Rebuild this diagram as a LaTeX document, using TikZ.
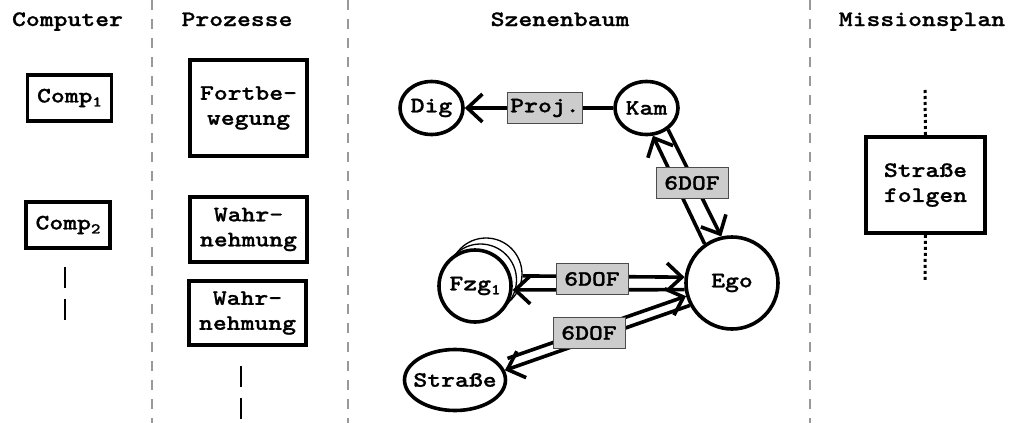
\documentclass[tikz,border=0pt]{standalone}
\usepackage{fontspec}
\newfontfamily\cour{lmmonolt10-bold.otf}[FakeStretch=1.2, FakeBold=1]
\usetikzlibrary{arrows.meta,shapes.geometric}
% small lowered index digit
\newcommand{\lowidx}[1]{\raisebox{-4pt}{\fontsize{15}{15}\selectfont #1}}

\begin{document}
\begin{tikzpicture}[x=1pt,y=-1pt,
  txt/.style={font=\cour\fontsize{22}{25}\selectfont},
  sep/.style={draw=black!40, line width=1.8pt, dash pattern=on 10pt off 9pt},
  vdash/.style={line width=2.6pt, dash pattern=on 21pt off 11pt},
  dotline/.style={line width=3pt, dash pattern=on 3pt off 3pt},
  box/.style={txt, draw, line width=3.6pt, fill=white, align=center, inner sep=0pt},
  blob/.style={txt, draw, line width=3.6pt, fill=white, inner sep=0pt},
  ghost/.style={circle, draw, line width=1.3pt, fill=white, minimum size=72pt, inner sep=0pt},
  lbl/.style={txt, draw=black!70, line width=0.9pt, fill=black!20, inner xsep=2.5pt, inner ysep=2pt, minimum height=31pt},
  rel/.style={line width=3.6pt, -{Straight Barb[length=15pt,width=28pt]}}
]
\useasboundingbox (0,0) rectangle (1010,423);

% column separators
\draw[sep] (152,0) -- (152,423);
\draw[sep] (348,0) -- (348,423);
\draw[sep] (810,0) -- (810,423);

% column headings
\node[txt, anchor=base] (hcomp) at (67.5,26) {Computer};
\node[txt, anchor=base] (hproc) at (237,26) {Prozesse};
\node[txt, anchor=base] (hscene) at (560,26) {Szenenbaum};
\node[txt, anchor=base] (hmiss) at (922,26) {Missionsplan};

% computers
\node[box, minimum width=84pt, minimum height=46pt] (comp1) at (69.5,98) {Comp\lowidx{1}};
\node[box, minimum width=84pt, minimum height=46pt] (comp2) at (68,225) {Comp\lowidx{2}};
\coordinate (cdA) at (65,267);
\coordinate (cdB) at (65,320);
\draw[vdash] (cdA) -- (cdB);

% processes
\node[box, minimum width=117pt, minimum height=96pt] (fort) at (248.5,108) {Fortbe-\\wegung};
\node[box, minimum width=117pt, minimum height=65pt] (wahr1) at (248.5,229.5) {Wahr-\\nehmung};
\node[box, minimum width=117pt, minimum height=64pt] (wahr2) at (247.5,313) {Wahr-\\nehmung};
\coordinate (pdA) at (241,366);
\coordinate (pdB) at (241,419);
\draw[vdash] (pdA) -- (pdB);

% scene graph
\node[blob, ellipse, minimum width=63pt, minimum height=53pt] (dig) at (431.5,108) {Dig};
\node[blob, ellipse, minimum width=63pt, minimum height=53pt] (kam) at (646.5,108) {Kam};
\node[blob, circle, minimum size=92pt] (ego) at (732,283) {Ego};
\node[ghost] (fzgb) at (486,274) {};
\node[ghost] (fzga) at (480.5,280) {};
\node[blob, circle, minimum size=72pt] (fzg) at (475,286) {Fzg\lowidx{1}};
\node[blob, ellipse, inner xsep=-8pt, minimum width=101pt, minimum height=61pt] (strasse) at (455,380) {Straße};

\draw[rel] (kam.west) -- (dig.east) node[lbl, pos=0.46] (proj) {Proj.};
\draw[rel] (kam.-45) -- (ego.103);
\draw[rel] (ego.125) -- (kam.-77);
\draw[rel] (fzgb.-3) -- (ego.173);
\draw[rel] (ego.-172) -- (fzg.-6);
\draw[rel, shorten <=10pt] (strasse.23) -- (ego.196);
\draw[rel] (ego.208) -- (strasse.11);

\node[lbl, minimum width=72pt] (dofk) at (692,183) {6DOF};
\node[lbl, minimum width=72pt] (doff) at (592,279) {6DOF};
\node[lbl, minimum width=72pt] (dofs) at (589,333) {6DOF};

% mission plan
\node[box, minimum width=119pt, minimum height=96pt] (msn) at (925.5,185) {Straße\\folgen};
\coordinate (mtop) at (925,90);
\coordinate (mbot) at (925,280);
\draw[dotline] (mtop) -- (msn.north);
\draw[dotline] (msn.south) -- (mbot);
\end{tikzpicture}
\end{document}
